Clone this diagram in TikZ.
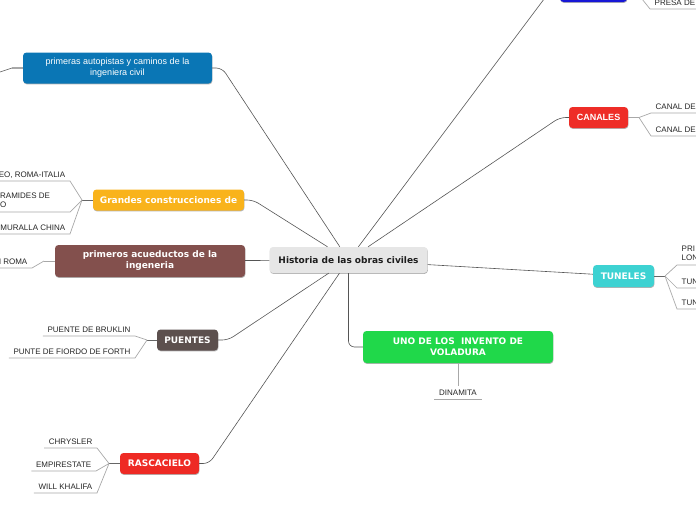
\documentclass[tikz,border=0pt]{standalone}
\usepackage{fontspec}
\newfontfamily\dejavu{DejaVu Sans}
\newfontfamily\arial{Liberation Sans}
\usetikzlibrary{shadows}

\definecolor{hubgray}{HTML}{E6E6E6}
\definecolor{hubtext}{HTML}{1E1E1E}
\definecolor{autoblue}{HTML}{0A76B5}
\definecolor{grandorange}{HTML}{F9B31B}
\definecolor{acubrown}{HTML}{83504D}
\definecolor{puegray}{HTML}{5C504E}
\definecolor{rascred}{HTML}{EE2A24}
\definecolor{canred}{HTML}{EE2D27}
\definecolor{presablue}{HTML}{1717D6}
\definecolor{tuncyan}{HTML}{3DD2D2}
\definecolor{volgreen}{HTML}{20D84A}
\definecolor{leaftext}{HTML}{262626}
\definecolor{linkgray}{HTML}{555555}
\definecolor{stemgray}{HTML}{666666}
\definecolor{twiggray}{HTML}{A8A8A8}

\tikzset{
  topic/.style={rounded corners=3.5pt, text=white, inner sep=0pt, align=center,
    font=\dejavu\bfseries\fontsize{9}{11}\selectfont,
    drop shadow={shadow xshift=0.4pt, shadow yshift=-0.9pt, opacity=0.3, fill=black}},
  leaf/.style={font=\arial\fontsize{8}{9.5}\selectfont, text=leaftext,
    inner xsep=4.5pt, inner ysep=3.8pt, text depth=0pt},
  leaftwo/.style={font=\arial\fontsize{8}{9.5}\selectfont, text=leaftext,
    inner xsep=4.5pt, inner ysep=3.8pt, align=left},
  link/.style={draw=linkgray, line width=0.6pt, rounded corners=6pt},
  stem/.style={draw=stemgray, line width=1pt},
  twig/.style={draw=twiggray, line width=0.7pt},
}

\begin{document}
\begin{tikzpicture}[x=1pt, y=-1pt]
\clip (0,0) rectangle (696,520);

% main topics
\node[topic, fill=hubgray, text=hubtext, minimum width=158pt, minimum height=26pt] (hub) at (348.5,260) {Historia de las obras civiles};
\node[topic, fill=autoblue, font=\arial\fontsize{9}{11}\selectfont, minimum width=189pt, minimum height=31pt] (auto) at (117.5,68) {primeras autopistas y caminos de la\\ingeniera civil};
\node[topic, fill=grandorange, minimum width=151pt, minimum height=21pt] (grand) at (168.5,200) {Grandes construcciones de};
\node[topic, fill=acubrown, minimum width=190pt, minimum height=32pt] (acu) at (150,261) {primeros acueductos de la\\ingeneria};
\node[topic, fill=puegray, minimum width=61pt, minimum height=21pt] (pue) at (187.5,340) {PUENTES};
\node[topic, fill=rascred, minimum width=79pt, minimum height=21pt] (rasc) at (159.5,463.5) {RASCACIELO};
\node[topic, fill=presablue, minimum width=67pt, minimum height=16pt] (presa) at (593.5,-6) {};
\node[topic, fill=canred, font=\arial\bfseries\fontsize{9}{11}\selectfont, minimum width=59pt, minimum height=21pt] (can) at (598.5,117.5) {CANALES};
\node[topic, fill=tuncyan, minimum width=61pt, minimum height=22pt] (tun) at (623.5,276) {TUNELES};
\node[topic, fill=volgreen, minimum width=190pt, minimum height=32pt] (vol) at (458,347) {UNO DE LOS\ \ INVENTO DE\\VOLADURA};

% edges and junctions
\coordinate (edgeL) at (0,0);
\coordinate (edgeR) at (696,0);
\coordinate (jAuto) at (12,68);
\coordinate (autoEnd) at (-12,76);
\coordinate (jGrand) at (82,200);
\coordinate (piramEnd) at (70,212);
\coordinate (jAcu) at (44,261);
\coordinate (jPue) at (147,340);
\coordinate (jRasc) at (109,463.5);
\coordinate (jPresa) at (638,-6);
\coordinate (jCan) at (639,117.5);
\coordinate (jTun) at (665,276);

% leaves
\node[leaf, anchor=south east] (colis) at (70,181) {EO, ROMA-ITALIA};
\node[leaftwo, anchor=south west] (piram) at (-4.5,212) {RAMIDES DE\\O};
\node[leaf, anchor=south east] (mural) at (70,234) {MURALLA CHINA};
\node[leaf, anchor=south east] (roma) at (32,268) {N ROMA};
\node[leaf, anchor=south east] (bruk) at (135,336) {PUENTE DE BRUKLIN};
\node[leaf, anchor=south east] (forth) at (135,358) {PUNTE DE FIORDO DE FORTH};
\node[leaf, anchor=south east] (chrys) at (97,448) {CHRYSLER};
\node[leaf, anchor=south east] (empire) at (96,471) {EMPIRESTATE};
\node[leaf, anchor=south east] (khal) at (97,493) {WILL KHALIFA};
\node[leaf, anchor=south west] (presaLeaf) at (650,9) {PRESA DE};
\node[leaf, anchor=south west] (canA) at (651,113) {CANAL DE};
\node[leaf, anchor=south west] (canB) at (651,136) {CANAL DE};
\node[leaftwo, anchor=south west] (tunA) at (677,265) {PRI\\LON};
\node[leaf, anchor=south west] (tunB) at (677,288) {TUN};
\node[leaf, anchor=south west] (tunC) at (677,309) {TUN};
\node[leaf, anchor=south] (dina) at (458,399) {DINAMITA};

% links from the centre
\draw[link] (hub) -- ([xshift=10pt]auto.east) -- (auto.east);
\draw[link] (hub) -- ([xshift=9pt]grand.east) -- (grand.east);
\draw[link] (hub) -- (acu);
\draw[link] (hub) -- ([xshift=10pt]pue.east) -- (pue.east);
\draw[link] (hub) -- ([xshift=10pt]rasc.east) -- (rasc.east);
\draw[link] (hub.south) -- (hub.south |- vol.west) -- (vol.west);
\draw[link] (hub) -- (tun);
\draw[link] (hub) -- ([xshift=-9pt]can.west) -- (can.west);
\draw[link] (hub) -- ([xshift=-12pt]presa.west) -- (presa.west);

% sub topics
\draw[twig, line width=1.2pt] (auto.west) -- (jAuto);
\draw[link] (jAuto) -- (autoEnd);

\draw[stem] (grand.west) -- (jGrand);
\draw[twig] (jGrand) -- (colis.south east) -- (colis.south east -| edgeL);
\draw[twig] (jGrand) -- (piramEnd) -- (piram.south west);
\draw[twig] (jGrand) -- (mural.south east) -- (mural.south east -| edgeL);

\draw[stem, draw=twiggray] (acu.west) -- (jAcu);
\draw[twig] (jAcu) -- (roma.south east) -- (roma.south east -| edgeL);

\draw[stem] (pue.west) -- (jPue);
\draw[twig] (jPue) -- (bruk.south east) -- (bruk.south west);
\draw[twig] (jPue) -- (forth.south east) -- (forth.south west);

\draw[stem] (rasc.west) -- (jRasc);
\draw[twig] (jRasc) -- (chrys.south east) -- (chrys.south west);
\draw[twig] (jRasc) -- (empire.south east) -- (empire.south west);
\draw[twig] (jRasc) -- (khal.south east) -- (khal.south west);

\draw[stem] (presa.east) -- (jPresa);
\draw[twig] (jPresa) -- (presaLeaf.south west) -- (presaLeaf.south west -| edgeR);

\draw[stem, draw=twiggray] (can.east) -- (jCan);
\draw[twig] (jCan) -- (canA.south west) -- (canA.south west -| edgeR);
\draw[twig] (jCan) -- (canB.south west) -- (canB.south west -| edgeR);

\draw[stem] (tun.east) -- (jTun);
\draw[twig] (jTun) -- (tunA.south west) -- (tunA.south west -| edgeR);
\draw[twig] (jTun) -- (tunB.south west) -- (tunB.south west -| edgeR);
\draw[twig] (jTun) -- (tunC.south west) -- (tunC.south west -| edgeR);

\draw[stem, draw=twiggray] (vol.south) -- (dina.north);
\draw[twig] (dina.south west) -- (dina.south east);
\end{tikzpicture}
\end{document}
